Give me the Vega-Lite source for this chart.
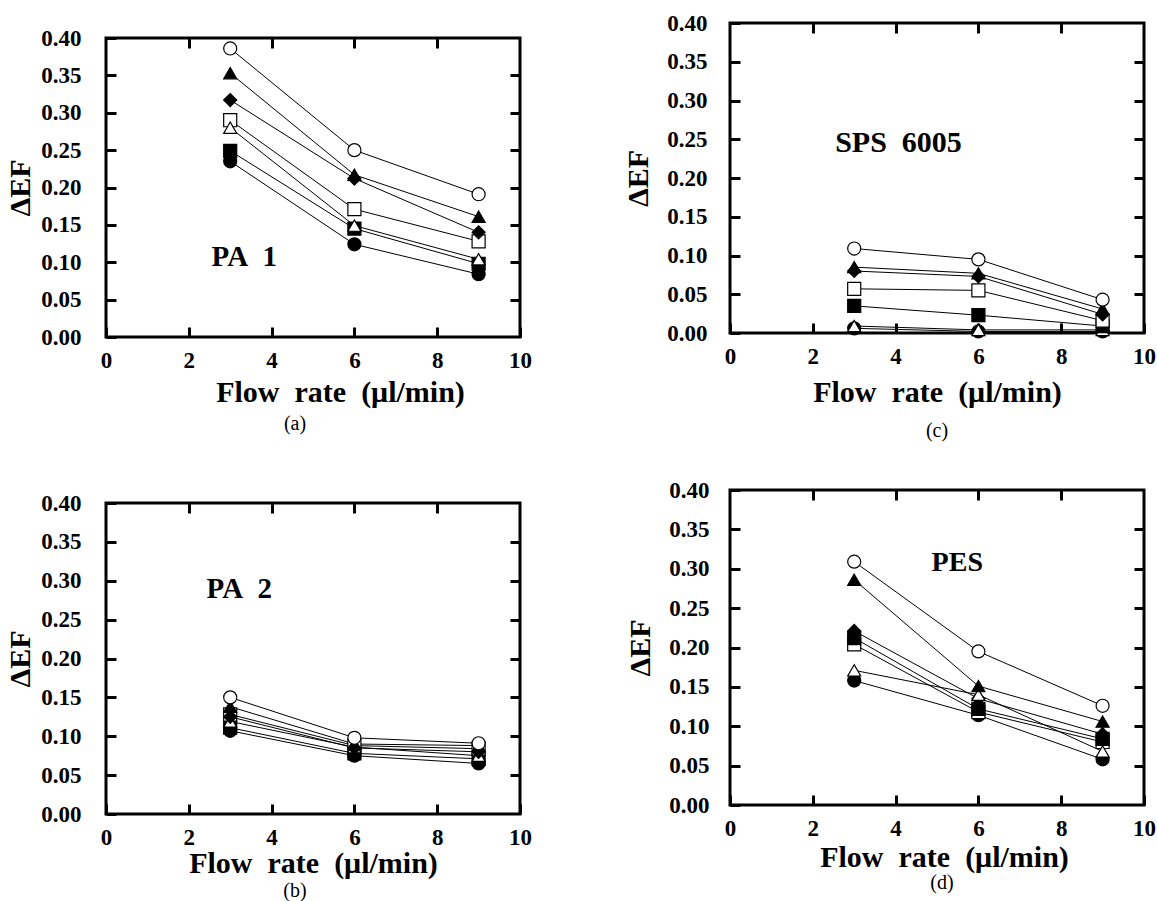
{
  "$schema": "https://vega.github.io/schema/vega-lite/v6.json",
  "padding": {"left": 4, "top": 10, "right": 0, "bottom": 0},
  "background": "white",
  "datasets": {
    "pts": [
      {"panel": "a", "series": "fc", "flow": 3, "def": 0.235}, {"panel": "a", "series": "fc", "flow": 6, "def": 0.124}, {"panel": "a", "series": "fc", "flow": 9, "def": 0.084},
      {"panel": "a", "series": "fs", "flow": 3, "def": 0.249}, {"panel": "a", "series": "fs", "flow": 6, "def": 0.145}, {"panel": "a", "series": "fs", "flow": 9, "def": 0.098},
      {"panel": "a", "series": "os", "flow": 3, "def": 0.290}, {"panel": "a", "series": "os", "flow": 6, "def": 0.171}, {"panel": "a", "series": "os", "flow": 9, "def": 0.128},
      {"panel": "a", "series": "ot", "flow": 3, "def": 0.280}, {"panel": "a", "series": "ot", "flow": 6, "def": 0.149}, {"panel": "a", "series": "ot", "flow": 9, "def": 0.104},
      {"panel": "a", "series": "ft", "flow": 3, "def": 0.353}, {"panel": "a", "series": "ft", "flow": 6, "def": 0.217}, {"panel": "a", "series": "ft", "flow": 9, "def": 0.161},
      {"panel": "a", "series": "fd", "flow": 3, "def": 0.317}, {"panel": "a", "series": "fd", "flow": 6, "def": 0.212}, {"panel": "a", "series": "fd", "flow": 9, "def": 0.140},
      {"panel": "a", "series": "oc", "flow": 3, "def": 0.386}, {"panel": "a", "series": "oc", "flow": 6, "def": 0.250}, {"panel": "a", "series": "oc", "flow": 9, "def": 0.191},

      {"panel": "b", "series": "fc", "flow": 3, "def": 0.107}, {"panel": "b", "series": "fc", "flow": 6, "def": 0.075}, {"panel": "b", "series": "fc", "flow": 9, "def": 0.065},
      {"panel": "b", "series": "fs", "flow": 3, "def": 0.111}, {"panel": "b", "series": "fs", "flow": 6, "def": 0.078}, {"panel": "b", "series": "fs", "flow": 9, "def": 0.071},
      {"panel": "b", "series": "os", "flow": 3, "def": 0.128}, {"panel": "b", "series": "os", "flow": 6, "def": 0.088}, {"panel": "b", "series": "os", "flow": 9, "def": 0.084},
      {"panel": "b", "series": "ot", "flow": 3, "def": 0.119}, {"panel": "b", "series": "ot", "flow": 6, "def": 0.086}, {"panel": "b", "series": "ot", "flow": 9, "def": 0.075},
      {"panel": "b", "series": "fd", "flow": 3, "def": 0.125}, {"panel": "b", "series": "fd", "flow": 6, "def": 0.085}, {"panel": "b", "series": "fd", "flow": 9, "def": 0.080},
      {"panel": "b", "series": "ft", "flow": 3, "def": 0.138}, {"panel": "b", "series": "ft", "flow": 6, "def": 0.090}, {"panel": "b", "series": "ft", "flow": 9, "def": 0.088},
      {"panel": "b", "series": "oc", "flow": 3, "def": 0.150}, {"panel": "b", "series": "oc", "flow": 6, "def": 0.098}, {"panel": "b", "series": "oc", "flow": 9, "def": 0.091},

      {"panel": "c", "series": "fc", "flow": 3, "def": 0.006}, {"panel": "c", "series": "fc", "flow": 6, "def": 0.002}, {"panel": "c", "series": "fc", "flow": 9, "def": 0.002},
      {"panel": "c", "series": "ot", "flow": 3, "def": 0.009}, {"panel": "c", "series": "ot", "flow": 6, "def": 0.004}, {"panel": "c", "series": "ot", "flow": 9, "def": 0.004},
      {"panel": "c", "series": "fs", "flow": 3, "def": 0.035}, {"panel": "c", "series": "fs", "flow": 6, "def": 0.023}, {"panel": "c", "series": "fs", "flow": 9, "def": 0.009},
      {"panel": "c", "series": "os", "flow": 3, "def": 0.057}, {"panel": "c", "series": "os", "flow": 6, "def": 0.055}, {"panel": "c", "series": "os", "flow": 9, "def": 0.016},
      {"panel": "c", "series": "ft", "flow": 3, "def": 0.085}, {"panel": "c", "series": "ft", "flow": 6, "def": 0.077}, {"panel": "c", "series": "ft", "flow": 9, "def": 0.031},
      {"panel": "c", "series": "fd", "flow": 3, "def": 0.080}, {"panel": "c", "series": "fd", "flow": 6, "def": 0.073}, {"panel": "c", "series": "fd", "flow": 9, "def": 0.024},
      {"panel": "c", "series": "oc", "flow": 3, "def": 0.109}, {"panel": "c", "series": "oc", "flow": 6, "def": 0.095}, {"panel": "c", "series": "oc", "flow": 9, "def": 0.043},

      {"panel": "d", "series": "fc", "flow": 3, "def": 0.158}, {"panel": "d", "series": "fc", "flow": 6, "def": 0.114}, {"panel": "d", "series": "fc", "flow": 9, "def": 0.058},
      {"panel": "d", "series": "os", "flow": 3, "def": 0.204}, {"panel": "d", "series": "os", "flow": 6, "def": 0.118}, {"panel": "d", "series": "os", "flow": 9, "def": 0.080},
      {"panel": "d", "series": "fs", "flow": 3, "def": 0.212}, {"panel": "d", "series": "fs", "flow": 6, "def": 0.122}, {"panel": "d", "series": "fs", "flow": 9, "def": 0.084},
      {"panel": "d", "series": "fd", "flow": 3, "def": 0.221}, {"panel": "d", "series": "fd", "flow": 6, "def": 0.135}, {"panel": "d", "series": "fd", "flow": 9, "def": 0.090},
      {"panel": "d", "series": "ot", "flow": 3, "def": 0.171}, {"panel": "d", "series": "ot", "flow": 6, "def": 0.140}, {"panel": "d", "series": "ot", "flow": 9, "def": 0.068},
      {"panel": "d", "series": "ft", "flow": 3, "def": 0.286}, {"panel": "d", "series": "ft", "flow": 6, "def": 0.151}, {"panel": "d", "series": "ft", "flow": 9, "def": 0.106},
      {"panel": "d", "series": "oc", "flow": 3, "def": 0.309}, {"panel": "d", "series": "oc", "flow": 6, "def": 0.195}, {"panel": "d", "series": "oc", "flow": 9, "def": 0.126}
    ],
    "labels": [
      {"panel": "a", "label": "PA\u00a0\u00a01", "flow": 2.55, "def": 0.095},
      {"panel": "b", "label": "PA\u00a0\u00a02", "flow": 2.43, "def": 0.278},
      {"panel": "c", "label": "SPS\u00a0\u00a06005", "flow": 2.54, "def": 0.2335},
      {"panel": "d", "label": "PES", "flow": 4.87, "def": 0.297}
    ]
  },
  "hconcat": [
    {
      "spacing": 55,
      "vconcat": [
        {
          "spacing": -2,
          "vconcat": [
            {"width": 1, "height": 1, "view": {"stroke": null}, "data": {"values": [{"s": 1}]}, "mark": {"type": "point", "opacity": 0}, "encoding": {}},
            {
              "width": 414, "height": 299,
              "title": {"text": "(a)", "orient": "bottom", "offset": 6, "dx": -18, "font": "Liberation Serif", "fontSize": 20, "fontWeight": "normal", "color": "black"},
              "resolve": {"axis": {"x": "independent", "y": "independent"}},
              "layer": [
                {"data": {"name": "pts"}, "transform": [{"filter": "datum.panel === 'a'"}],
                 "mark": {"type": "line", "color": "black", "strokeWidth": 1},
                 "encoding": {
                   "x": {"field": "flow", "type": "quantitative", "scale": {"domain": [0, 10]}, "axis": {"orient": "bottom", "values": [0, 2, 4, 6, 8, 10], "offset": -10, "labelPadding": 12, "title": "Flow\u2002rate\u2002(\u03bcl/min)", "titlePadding": 5.5, "titleX": 234}},
                   "y": {"field": "def", "type": "quantitative", "scale": {"domain": [0, 0.4]}, "axis": {"orient": "left", "values": [0, 0.05, 0.1, 0.15, 0.2, 0.25, 0.3, 0.35, 0.4], "format": ".2f", "offset": -10, "labelPadding": 25, "title": "\u0394EF", "titlePadding": 5}},
                   "detail": {"field": "series"}}},
                {"data": {"name": "pts"}, "transform": [{"filter": "datum.panel === 'a'"}],
                 "mark": {"type": "point", "filled": true, "size": 170, "stroke": "black", "strokeWidth": 1.2, "opacity": 1},
                 "encoding": {
                   "x": {"field": "flow", "type": "quantitative", "axis": {"orient": "top", "values": [2, 4, 6, 8], "offset": -10, "labels": false, "title": null}},
                   "y": {"field": "def", "type": "quantitative", "axis": {"orient": "right", "values": [0.05, 0.1, 0.15, 0.2, 0.25, 0.3, 0.35], "offset": -10, "labels": false, "title": null}},
                   "shape": {"field": "series", "type": "nominal", "legend": null, "scale": {"domain": ["oc", "ft", "fd", "os", "ot", "fs", "fc"], "range": ["circle", "triangle-up", "diamond", "square", "triangle-up", "square", "circle"]}},
                   "fill": {"field": "series", "type": "nominal", "legend": null, "scale": {"domain": ["oc", "ft", "fd", "os", "ot", "fs", "fc"], "range": ["white", "black", "black", "white", "white", "black", "black"]}}}},
                {"data": {"name": "labels"}, "transform": [{"filter": "datum.panel === 'a'"}],
                 "mark": {"type": "text", "font": "Liberation Serif", "fontWeight": "bold", "fontSize": 29, "align": "left", "baseline": "alphabetic", "color": "black"},
                 "encoding": {
                   "x": {"field": "flow", "type": "quantitative", "axis": null},
                   "y": {"field": "def", "type": "quantitative", "axis": null},
                   "text": {"field": "label"}}}
              ]
            }
          ]
        },
        {
          "width": 414, "height": 311,
          "title": {"text": "(b)", "orient": "bottom", "offset": 3, "dx": -18, "font": "Liberation Serif", "fontSize": 20, "fontWeight": "normal", "color": "black"},
          "resolve": {"axis": {"x": "independent", "y": "independent"}},
          "layer": [
            {"data": {"name": "pts"}, "transform": [{"filter": "datum.panel === 'b'"}],
             "mark": {"type": "line", "color": "black", "strokeWidth": 1},
             "encoding": {
               "x": {"field": "flow", "type": "quantitative", "scale": {"domain": [0, 10]}, "axis": {"orient": "bottom", "values": [0, 2, 4, 6, 8, 10], "offset": -10, "labelPadding": 12, "title": "Flow\u2002rate\u2002(\u03bcl/min)", "titlePadding": -1}},
               "y": {"field": "def", "type": "quantitative", "scale": {"domain": [0, 0.4]}, "axis": {"orient": "left", "values": [0, 0.05, 0.1, 0.15, 0.2, 0.25, 0.3, 0.35, 0.4], "format": ".2f", "offset": -10, "labelPadding": 25, "title": "\u0394EF", "titlePadding": 5}},
               "detail": {"field": "series"}}},
            {"data": {"name": "pts"}, "transform": [{"filter": "datum.panel === 'b'"}],
             "mark": {"type": "point", "filled": true, "size": 170, "stroke": "black", "strokeWidth": 1.2, "opacity": 1},
             "encoding": {
               "x": {"field": "flow", "type": "quantitative", "axis": {"orient": "top", "values": [2, 4, 6, 8], "offset": -10, "labels": false, "title": null}},
               "y": {"field": "def", "type": "quantitative", "axis": {"orient": "right", "values": [0.05, 0.1, 0.15, 0.2, 0.25, 0.3, 0.35], "offset": -10, "labels": false, "title": null}},
               "shape": {"field": "series", "type": "nominal", "legend": null, "scale": {"domain": ["oc", "ft", "fd", "os", "ot", "fs", "fc"], "range": ["circle", "triangle-up", "diamond", "square", "triangle-up", "square", "circle"]}},
               "fill": {"field": "series", "type": "nominal", "legend": null, "scale": {"domain": ["oc", "ft", "fd", "os", "ot", "fs", "fc"], "range": ["white", "black", "black", "white", "white", "black", "black"]}}}},
            {"data": {"name": "labels"}, "transform": [{"filter": "datum.panel === 'b'"}],
             "mark": {"type": "text", "font": "Liberation Serif", "fontWeight": "bold", "fontSize": 29, "align": "left", "baseline": "alphabetic", "color": "black"},
             "encoding": {
               "x": {"field": "flow", "type": "quantitative", "axis": null},
               "y": {"field": "def", "type": "quantitative", "axis": null},
               "text": {"field": "label"}}}
          ]
        }
      ]
    },
    {
      "spacing": 34,
      "vconcat": [
        {
          "width": 414, "height": 310,
          "title": {"text": "(c)", "orient": "bottom", "offset": 14, "font": "Liberation Serif", "fontSize": 20, "fontWeight": "normal", "color": "black"},
          "resolve": {"axis": {"x": "independent", "y": "independent"}},
          "layer": [
            {"data": {"name": "pts"}, "transform": [{"filter": "datum.panel === 'c'"}],
             "mark": {"type": "line", "color": "black", "strokeWidth": 1},
             "encoding": {
               "x": {"field": "flow", "type": "quantitative", "scale": {"domain": [0, 10]}, "axis": {"orient": "bottom", "values": [0, 2, 4, 6, 8, 10], "offset": -10, "labelPadding": 12, "title": "Flow\u2002rate\u2002(\u03bcl/min)", "titlePadding": 9}},
               "y": {"field": "def", "type": "quantitative", "scale": {"domain": [0, 0.4]}, "axis": {"orient": "left", "values": [0, 0.05, 0.1, 0.15, 0.2, 0.25, 0.3, 0.35, 0.4], "format": ".2f", "offset": -10, "labelPadding": 23, "title": "\u0394EF", "titlePadding": 13}},
               "detail": {"field": "series"}}},
            {"data": {"name": "pts"}, "transform": [{"filter": "datum.panel === 'c'"}],
             "mark": {"type": "point", "filled": true, "size": 170, "stroke": "black", "strokeWidth": 1.2, "opacity": 1},
             "encoding": {
               "x": {"field": "flow", "type": "quantitative", "axis": {"orient": "top", "values": [2, 4, 6, 8], "offset": -10, "labels": false, "title": null}},
               "y": {"field": "def", "type": "quantitative", "axis": {"orient": "right", "values": [0.05, 0.1, 0.15, 0.2, 0.25, 0.3, 0.35], "offset": -10, "labels": false, "title": null}},
               "shape": {"field": "series", "type": "nominal", "legend": null, "scale": {"domain": ["oc", "ft", "fd", "os", "ot", "fs", "fc"], "range": ["circle", "triangle-up", "diamond", "square", "triangle-up", "square", "circle"]}},
               "fill": {"field": "series", "type": "nominal", "legend": null, "scale": {"domain": ["oc", "ft", "fd", "os", "ot", "fs", "fc"], "range": ["white", "black", "black", "white", "white", "black", "black"]}}}},
            {"data": {"name": "labels"}, "transform": [{"filter": "datum.panel === 'c'"}],
             "mark": {"type": "text", "font": "Liberation Serif", "fontWeight": "bold", "fontSize": 30, "align": "left", "baseline": "alphabetic", "color": "black"},
             "encoding": {
               "x": {"field": "flow", "type": "quantitative", "axis": null},
               "y": {"field": "def", "type": "quantitative", "axis": null},
               "text": {"field": "label"}}}
          ]
        },
        {
          "width": 414, "height": 315,
          "title": {"text": "(d)", "orient": "bottom", "offset": 1, "dx": 5, "font": "Liberation Serif", "fontSize": 20, "fontWeight": "normal", "color": "black"},
          "resolve": {"axis": {"x": "independent", "y": "independent"}},
          "layer": [
            {"data": {"name": "pts"}, "transform": [{"filter": "datum.panel === 'd'"}],
             "mark": {"type": "line", "color": "black", "strokeWidth": 1},
             "encoding": {
               "x": {"field": "flow", "type": "quantitative", "scale": {"domain": [0, 10]}, "axis": {"orient": "bottom", "values": [0, 2, 4, 6, 8, 10], "offset": -10, "labelPadding": 12, "title": "Flow\u2002rate\u2002(\u03bcl/min)", "titlePadding": 2, "titleX": 214}},
               "y": {"field": "def", "type": "quantitative", "scale": {"domain": [0, 0.4]}, "axis": {"orient": "left", "values": [0, 0.05, 0.1, 0.15, 0.2, 0.25, 0.3, 0.35, 0.4], "format": ".2f", "offset": -10, "labelPadding": 21, "title": "\u0394EF", "titlePadding": 13}},
               "detail": {"field": "series"}}},
            {"data": {"name": "pts"}, "transform": [{"filter": "datum.panel === 'd'"}],
             "mark": {"type": "point", "filled": true, "size": 170, "stroke": "black", "strokeWidth": 1.2, "opacity": 1},
             "encoding": {
               "x": {"field": "flow", "type": "quantitative", "axis": {"orient": "top", "values": [2, 4, 6, 8], "offset": -10, "labels": false, "title": null}},
               "y": {"field": "def", "type": "quantitative", "axis": {"orient": "right", "values": [0.05, 0.1, 0.15, 0.2, 0.25, 0.3, 0.35], "offset": -10, "labels": false, "title": null}},
               "shape": {"field": "series", "type": "nominal", "legend": null, "scale": {"domain": ["oc", "ft", "fd", "os", "ot", "fs", "fc"], "range": ["circle", "triangle-up", "diamond", "square", "triangle-up", "square", "circle"]}},
               "fill": {"field": "series", "type": "nominal", "legend": null, "scale": {"domain": ["oc", "ft", "fd", "os", "ot", "fs", "fc"], "range": ["white", "black", "black", "white", "white", "black", "black"]}}}},
            {"data": {"name": "labels"}, "transform": [{"filter": "datum.panel === 'd'"}],
             "mark": {"type": "text", "font": "Liberation Serif", "fontWeight": "bold", "fontSize": 28, "align": "left", "baseline": "alphabetic", "color": "black"},
             "encoding": {
               "x": {"field": "flow", "type": "quantitative", "axis": null},
               "y": {"field": "def", "type": "quantitative", "axis": null},
               "text": {"field": "label"}}}
          ]
        }
      ]
    }
  ],
  "spacing": 89,
  "config": {
    "view": {"stroke": "black", "strokeWidth": 3},
    "axis": {
      "domain": false, "grid": false,
      "tickColor": "black", "tickWidth": 3, "tickSize": 10,
      "labelFont": "Liberation Serif", "labelFontSize": 23, "labelFontWeight": "bold", "labelColor": "black",
      "labelFlush": false, "labelOverlap": false,
      "titleFont": "Liberation Serif", "titleFontSize": 30, "titleFontWeight": "bold", "titleColor": "black"
    }
  }
}
